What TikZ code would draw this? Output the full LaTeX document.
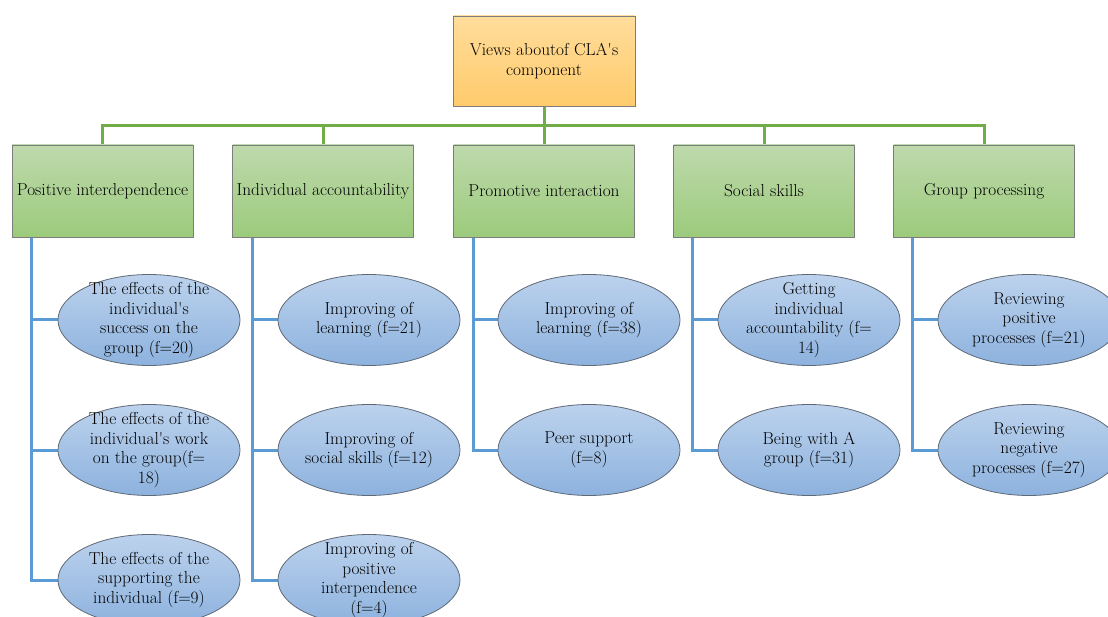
\documentclass[tikz,border=0pt]{standalone}
\usetikzlibrary{shapes.geometric,backgrounds}
\definecolor{linegreen}{RGB}{112,173,71}
\definecolor{lineblue}{RGB}{91,155,213}
\definecolor{greentop}{RGB}{190,217,172}
\definecolor{greenbot}{RGB}{156,203,124}
\definecolor{orangetop}{RGB}{255,221,155}
\definecolor{orangebot}{RGB}{255,203,108}
\definecolor{bluetop}{RGB}{188,210,237}
\definecolor{bluebot}{RGB}{141,178,222}
\definecolor{edgegray}{RGB}{125,125,125}
\definecolor{edgeblue}{RGB}{95,105,118}
\newcommand{\apos}{\textquotesingle}
\begin{document}
\begin{tikzpicture}[x=1pt,y=-1pt,
  txt/.style={font=\fontsize{17.3}{19.5}\selectfont},
  rootbox/.style={draw=edgegray,line width=0.9pt,top color=orangetop,bottom color=orangebot,
    minimum width=182pt,minimum height=90pt,inner sep=0pt,align=center,txt},
  catbox/.style={draw=edgegray,line width=0.9pt,top color=greentop,bottom color=greenbot,
    minimum width=181pt,minimum height=92pt,inner sep=0pt,align=center,txt},
  item/.style={ellipse,draw=edgeblue,line width=0.8pt,top color=bluetop,bottom color=bluebot,
    minimum width=182pt,minimum height=91pt,inner sep=0pt},
  itemtext/.style={align=center,txt,inner sep=0pt},
  gline/.style={draw=linegreen,line width=3pt},
  bline/.style={draw=lineblue,line width=3pt},
]
\useasboundingbox (0,0) rectangle (1108,617);
\clip (0,0) rectangle (1108,617);

% root and categories
\node[rootbox] (root) at (544,61) {Views aboutof CLA\apos s\\component};
\node[catbox] (g1) at (102.5,191) {Positive interdependence};
\node[catbox] (g2) at (323,191) {Individual accountability};
\node[catbox] (g3) at (544,191) {Promotive interaction};
\node[catbox] (g4) at (764,191) {Social skills};
\node[catbox] (g5) at (984,191) {Group processing};

% items, column by column
\node[item] (e11) at (149,320) {};
\node[item] (e12) at (149,450) {};
\node[item] (e13) at (149,580) {};
\node[item] (e21) at (369,320) {};
\node[item] (e22) at (369,450) {};
\node[item] (e23) at (369,580) {};
\node[item] (e31) at (589,320) {};
\node[item] (e32) at (589,450) {};
\node[item] (e41) at (809,320) {};
\node[item] (e42) at (809,450) {};
\node[item] (e51) at (1029,320) {};
\node[item] (e52) at (1029,450) {};

\node[itemtext] (l11) at (e11) {The effects of the\\individual\apos s\\success on the\\group (f=20)};
\node[itemtext] (l12) at (e12) {The effects of the\\individual\apos s work\\on the group(f=\\18)};
\node[itemtext] (l13) at (e13) {The effects of the\\supporting the\\individual (f=9)};
\node[itemtext] (l21) at (e21) {Improving of\\learning (f=21)};
\node[itemtext] (l22) at (e22) {Improving of\\social skills (f=12)};
\node[itemtext] (l23) at (e23) {Improving of\\positive\\interpendence\\(f=4)};
\node[itemtext] (l31) at (e31) {Improving of\\learning (f=38)};
\node[itemtext] (l32) at (e32) {Peer support\\(f=8)};
\node[itemtext] (l41) at (e41) {Getting\\individual\\accountability (f=\\14)};
\node[itemtext] (l42) at (e42) {Being with A\\group (f=31)};
\node[itemtext] (l51) at (e51) {Reviewing\\positive\\processes (f=21)};
\node[itemtext] (l52) at (e52) {Reviewing\\negative\\processes (f=27)};

% junction points of the tree
\coordinate (bar) at (544,126);
\coordinate (t1) at ([xshift=20pt]g1.south west);
\coordinate (t2) at ([xshift=20pt]g2.south west);
\coordinate (t3) at ([xshift=20pt]g3.south west);
\coordinate (t4) at ([xshift=19pt]g4.south west);
\coordinate (t5) at ([xshift=19pt]g5.south west);

\begin{pgfonlayer}{background}
  \fill[white] (0,0) rectangle (1108,617);
  % green tree
  \draw[gline] (root.south) -- (g3.north);
  \draw[gline] (g1.north) |- (bar) -| (g5.north);
  \draw[gline] (g2.north) -- (g2.north |- bar);
  \draw[gline] (g4.north) -- (g4.north |- bar);
  % blue trunks and branches
  \draw[bline] (t1) |- (e13.west);
  \draw[bline] (e11.west) -- ([xshift=-1.5pt]e11.west -| t1);
  \draw[bline] (e12.west) -- ([xshift=-1.5pt]e12.west -| t1);
  \draw[bline] (t2) |- (e23.west);
  \draw[bline] (e21.west) -- ([xshift=-1.5pt]e21.west -| t2);
  \draw[bline] (e22.west) -- ([xshift=-1.5pt]e22.west -| t2);
  \draw[bline] (t3) |- (e32.west);
  \draw[bline] (e31.west) -- ([xshift=-1.5pt]e31.west -| t3);
  \draw[bline] (t4) |- (e42.west);
  \draw[bline] (e41.west) -- ([xshift=-1.5pt]e41.west -| t4);
  \draw[bline] (t5) |- (e52.west);
  \draw[bline] (e51.west) -- ([xshift=-1.5pt]e51.west -| t5);
\end{pgfonlayer}
\end{tikzpicture}
\end{document}
